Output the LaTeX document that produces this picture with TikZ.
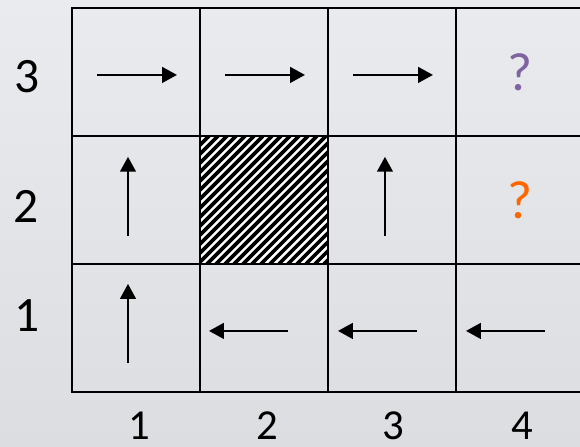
\documentclass[tikz,border=0pt]{standalone}
\usepackage{fontspec}
\setmainfont{Carlito}
\usetikzlibrary{arrows.meta,calc}
\definecolor{qpurple}{RGB}{128,100,162}
\definecolor{qorange}{RGB}{255,102,0}
\definecolor{bgtop}{RGB}{233,235,238}
\definecolor{bgbot}{RGB}{219,221,225}
\tikzset{
  cell/.style={draw,rectangle,minimum size=2cm,inner sep=0pt,line width=1.3pt},
  move/.style={-{Triangle[length=6.6pt,width=7pt]},line width=0.9pt},
  rowlab/.style={font=\fontsize{22}{26}\selectfont,inner sep=0pt},
  collab/.style={font=\fontsize{19}{23}\selectfont,inner sep=0pt},
  qmark/.style={font=\fontsize{24}{28}\selectfont,inner sep=0pt},
  hatch/.style={line width=1.6pt}
}

\begin{document}
\begin{tikzpicture}[x=2cm,y=2cm]
  \useasboundingbox (-0.5625,-0.4297) rectangle (3.96875,3.0625);
  \clip (-0.5625,-0.4297) rectangle (3.96875,3.0625);
  \shade[top color=bgtop,bottom color=bgbot] (-0.5625,-0.4297) rectangle (3.96875,3.0625);

  % the hatched (blocked) square
  \begin{scope}
    \clip (1,1) rectangle (2,2);
    \fill[white] (1,1) rectangle (2,2);
    \foreach \k in {0,...,29}
      \draw[hatch] ($(1,1)+(\k*0.0703-1,0)$) -- ++(1,1);
  \end{scope}

  % grid cells, c<col><row>
  \foreach \i in {1,...,4}
    \foreach \j in {1,...,3}
      \node[cell] (c\i\j) at (\i-0.5,\j-0.5) {};

  % policy arrows
  \draw[move] ($(c13)+(-0.305,-0.023)$) -- ++(0.625,0);
  \draw[move] ($(c23)+(-0.305,-0.023)$) -- ++(0.625,0);
  \draw[move] ($(c33)+(-0.305,-0.023)$) -- ++(0.625,0);
  \draw[move] ($(c12)+(-0.0625,-0.28)$) -- ++(0,0.617);
  \draw[move] ($(c32)+(-0.055,-0.28)$) -- ++(0,0.617);
  \draw[move] ($(c11)+(-0.0625,-0.273)$) -- ++(0,0.617);
  \draw[move] ($(c21)+(0.1875,-0.023)$) -- ++(-0.617,0);
  \draw[move] ($(c31)+(0.195,-0.023)$) -- ++(-0.617,0);
  \draw[move] ($(c41)+(0.195,-0.023)$) -- ++(-0.617,0);

  \node[qmark,text=qpurple] (q43) at (c43) {?};
  \node[qmark,text=qorange] (q42) at (c42) {?};

  % axis labels
  \node[rowlab] (r3) at (-0.355,2.461) {3};
  \node[rowlab] (r2) at (-0.36,1.453) {2};
  \node[rowlab] (r1) at (-0.355,0.594) {1};
  \node[collab] (k1) at (0.523,-0.262) {1};
  \node[collab] (k2) at (1.523,-0.262) {2};
  \node[collab] (k3) at (2.508,-0.262) {3};
  \node[collab] (k4) at (3.516,-0.262) {4};
\end{tikzpicture}
\end{document}
